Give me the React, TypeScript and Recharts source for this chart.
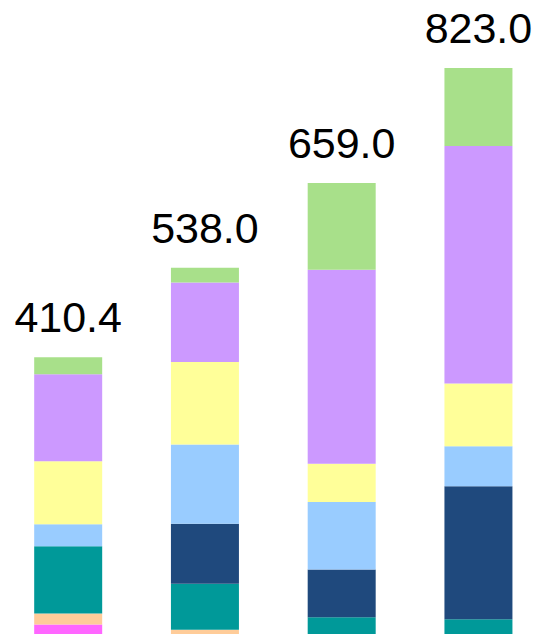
import { BarChart, Bar, XAxis, YAxis, LabelList } from "recharts";

const categories = ["A", "B", "C", "D"];
const totals = [410.4, 538.0, 659.0, 823.0];

// stacked from the bottom up
const magenta = [29.3, 0, 0, 0];
const peach = [15.7, 21.7, 0, 0];
const teal = [95.7, 65.7, 39.7, 36.8];
const navy = [0, 85.7, 68.1, 189.5];
const lightBlue = [31.4, 112.8, 96.1, 57.1];
const yellow = [89.9, 117.9, 54.8, 89.5];
const purple = [124.2, 113.4, 276.4, 338.8];
const green = [24.2, 20.8, 123.9, 111.3];

const series = [
  { key: "magenta", values: magenta, color: "#ff66ff" },
  { key: "peach", values: peach, color: "#ffcc99" },
  { key: "teal", values: teal, color: "#009999" },
  { key: "navy", values: navy, color: "#1f497d" },
  { key: "lightBlue", values: lightBlue, color: "#99ccff" },
  { key: "yellow", values: yellow, color: "#ffff99" },
  { key: "purple", values: purple, color: "#cc99ff" },
  { key: "green", values: green, color: "#a8e08a" },
];

const data = categories.map((name, i) => {
  const row: Record<string, number | string> = { name, total: totals[i] };
  series.forEach((s) => (row[s.key] = s.values[i]));
  return row;
});

const TotalLabel = (props: any) => {
  const { x, y, width, index } = props;
  return (
    <text
      x={x + width / 2}
      y={y - 25}
      textAnchor="middle"
      fontSize={43}
      fontFamily="'Liberation Sans', Arial, sans-serif"
      fill="#000"
    >
      {totals[index].toFixed(1)}
    </text>
  );
};

export default function App() {
  return (
    <div style={{ position: "fixed", left: 0, top: 0, width: 535, height: 634, overflow: "hidden", background: "#fff" }}>
      <BarChart
        width={547}
        height={645}
        data={data}
        margin={{ top: 0, right: 0, bottom: 0, left: 0 }}
        barCategoryGap="25%"
      >
        <XAxis dataKey="name" hide />
        <YAxis hide domain={[0, 920]} />
        {series.map((s, i) => (
          <Bar key={s.key} dataKey={s.key} stackId="a" fill={s.color} isAnimationActive={false}>
            {i === series.length - 1 && <LabelList dataKey="total" content={TotalLabel} />}
          </Bar>
        ))}
      </BarChart>
    </div>
  );
}
